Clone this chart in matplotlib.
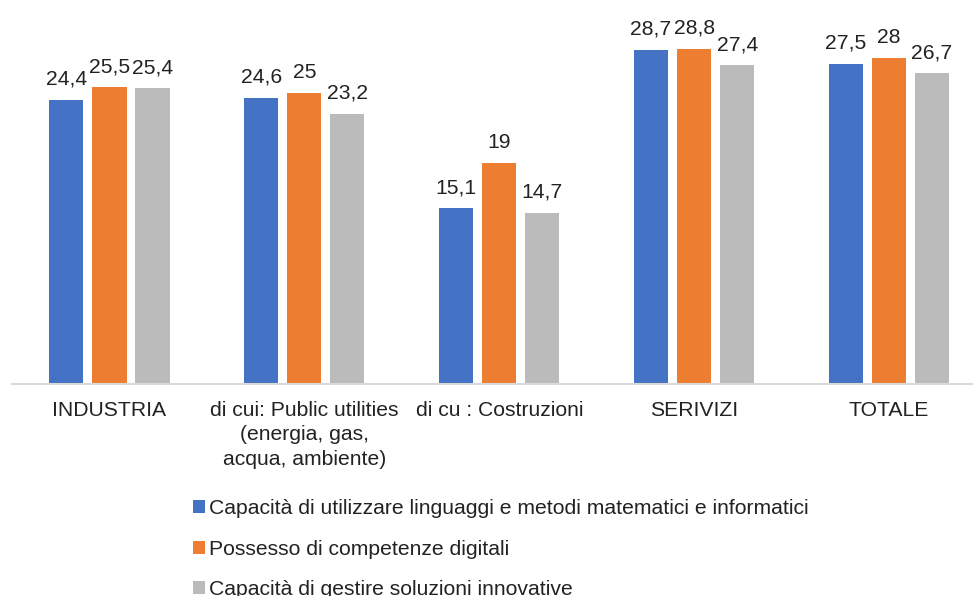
import matplotlib.pyplot as plt
import numpy as np

plt.rcParams['font.family'] = ['Liberation Sans', 'DejaVu Sans']

categories = ['INDUSTRIA',
              'di cui: Public utilities\n(energia, gas,\nacqua, ambiente)',
              'di cu : Costruzioni',
              'SERIVIZI',
              'TOTALE']
series_names = ['Capacità di utilizzare linguaggi e metodi matematici e informatici',
                'Possesso di competenze digitali',
                'Capacità di gestire soluzioni innovative']
matematici = [24.4, 24.6, 15.1, 28.7, 27.5]
digitali = [25.5, 25.0, 19.0, 28.8, 28.0]
innovative = [25.4, 23.2, 14.7, 27.4, 26.7]
colors = ['#4472C4', '#ED7D31', '#BBBBBB']

def fmt(v):
    # comma decimal, no trailing ",0"
    if float(v).is_integer():
        return str(int(v))
    return ('%.1f' % v).replace('.', ',')

fs = 15.2
fig = plt.figure(figsize=(9.73, 5.96), dpi=100)
ax = fig.add_axes([12 / 973, 1 - 384 / 596, 974.5 / 973, 384 / 596])

x = np.arange(len(categories))
width = 0.175
step = 0.221
for i, (vals, name) in enumerate(zip([matematici, digitali, innovative], series_names)):
    bars = ax.bar(x + (i - 1) * step, vals, width, color=colors[i], label=name)
    for b, v in zip(bars, vals):
        ax.annotate(fmt(v), (b.get_x() + b.get_width() / 2, v), xytext=(0, 8),
                    textcoords='offset points', ha='center', va='bottom',
                    fontsize=fs, color='#222222')

ax.set_xlim(-0.5, len(categories) - 0.5)
ax.set_ylim(0, 33)
ax.set_xticks(x)
ax.set_xticklabels(categories, fontsize=fs, color='#222222', linespacing=1.38)
ax.tick_params(axis='x', length=0, pad=12)
ax.set_yticks([])
for s in ['top', 'right', 'left']:
    ax.spines[s].set_visible(False)
ax.spines['bottom'].set_color('#D9D9D9')
ax.spines['bottom'].set_linewidth(1.5)

handles, labels = ax.get_legend_handles_labels()
leg = fig.legend(handles, labels, loc='upper left', bbox_to_anchor=(193 / 973, 1 - 499 / 596),
                 frameon=False, fontsize=fs, handlelength=0.57, handleheight=0.57,
                 handletextpad=0.2, labelspacing=1.02, borderpad=0, borderaxespad=0)
for t in leg.get_texts():
    t.set_color('#222222')

fig.savefig('out.png', dpi=100)
